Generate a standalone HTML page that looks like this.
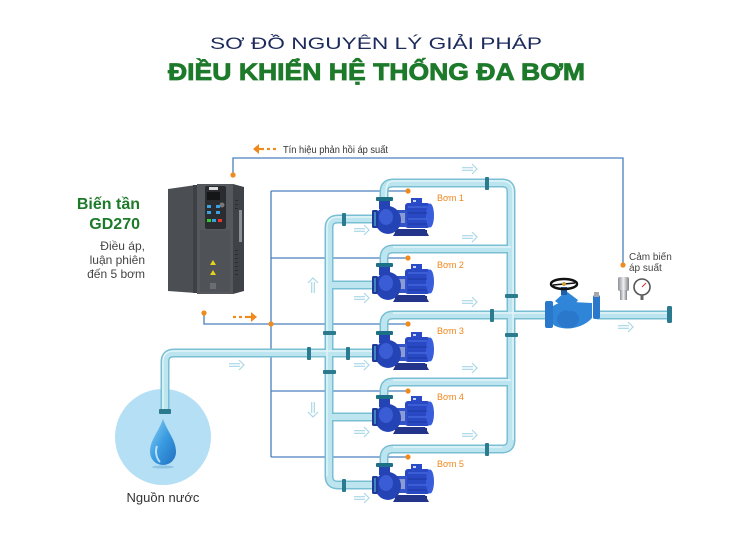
<!DOCTYPE html>
<html><head><meta charset="utf-8"><style>html,body{margin:0;padding:0;background:#fff}svg{display:block}</style></head>
<body>
<svg width="750" height="533" viewBox="0 0 750 533" xmlns="http://www.w3.org/2000/svg">
<defs>
  <linearGradient id="drop" x1="0" y1="0" x2="1" y2="1">
    <stop offset="0" stop-color="#8fd3f7"/><stop offset="0.5" stop-color="#3a9be0"/><stop offset="1" stop-color="#1f6fc0"/>
  </linearGradient>
  <linearGradient id="sens" x1="0" y1="0" x2="1" y2="0">
    <stop offset="0" stop-color="#8a8f94"/><stop offset="0.5" stop-color="#eef0f2"/><stop offset="1" stop-color="#7d8287"/>
  </linearGradient>
  <g id="pump">
    <rect x="20" y="11" width="32" height="5" fill="#1b2a6e"/>
    <polygon points="22,10 50,10 54,17 18,17" fill="#22358a"/>
    <rect x="30" y="-16" width="25" height="25" rx="3" fill="#2848c4"/>
    <ellipse cx="55" cy="-3.5" rx="4" ry="12" fill="#3a5ddc"/>
    <line x1="33" y1="-12" x2="52" y2="-12" stroke="#4f74e6" stroke-width="1"/>
    <line x1="33" y1="-6" x2="52" y2="-6" stroke="#1e38a0" stroke-width="1"/>
    <line x1="33" y1="0" x2="52" y2="0" stroke="#4f74e6" stroke-width="1"/>
    <line x1="33" y1="5" x2="52" y2="5" stroke="#1e38a0" stroke-width="1"/>
    <rect x="36" y="-21" width="11" height="6" fill="#2a4bc8"/>
    <rect x="38" y="-19" width="3" height="2" fill="#c9d4f5"/>
    <rect x="21" y="-9" width="11" height="17" fill="#3353c8"/>
    <rect x="23" y="-6" width="7" height="10" fill="#8a9bd6"/>
    <ellipse cx="13" cy="1" rx="13" ry="14" fill="#2444b6"/>
    <ellipse cx="11" cy="-2" rx="7" ry="8" fill="#3a5cd4"/>
    <rect x="4" y="-20" width="11" height="10" fill="#2444b6"/>
    <rect x="1" y="-22" width="17" height="4" rx="1" fill="#1d6f86"/>
    <rect x="-3" y="-9" width="6" height="18" rx="1.5" fill="#1f3a9a"/>
    <rect x="-1" y="-7" width="2" height="14" fill="#3e86c0"/>
  </g>
  <g id="arr" fill="none" stroke="#aad8e7" stroke-width="1.2">
    <line x1="-8" y1="-1.3" x2="3" y2="-1.3"/>
    <line x1="-8" y1="1.3" x2="3" y2="1.3"/>
    <polyline points="2,-5 7,0 2,5"/>
  </g>
</defs>

<!-- Titles -->
<text x="210" y="49" font-family="Liberation Sans, sans-serif" font-size="17" fill="#1c2a5c" textLength="332" lengthAdjust="spacingAndGlyphs">SƠ ĐỒ NGUYÊN LÝ GIẢI PHÁP</text>
<text x="168" y="80" font-family="Liberation Sans, sans-serif" font-size="24" font-weight="bold" fill="#1d7a2a" stroke="#1d7a2a" stroke-width="0.8" textLength="417" lengthAdjust="spacingAndGlyphs">ĐIỀU KHIỂN HỆ THỐNG ĐA BƠM</text>

<!-- Left text -->
<g font-family="Liberation Sans, sans-serif" text-anchor="end">
  <text x="140" y="209" font-size="16" font-weight="bold" fill="#1d7a2a">Biến tần</text>
  <text x="140" y="229" font-size="16" font-weight="bold" fill="#1d7a2a">GD270</text>
  <text x="145" y="250" font-size="12" fill="#444">Điều áp,</text>
  <text x="145" y="264" font-size="12" fill="#444">luận phiên</text>
  <text x="145" y="278" font-size="12" fill="#444">đến 5 bơm</text>
</g>

<!-- Signal / control lines -->
<g fill="none" stroke="#4a80bd" stroke-width="1.3">
  <polyline points="233,175 233,158 623,158 623,265"/>
  <polyline points="204,313 204,324 408,324"/>
  <line x1="271" y1="191" x2="271" y2="457"/>
  <line x1="271" y1="191" x2="408" y2="191"/>
  <line x1="271" y1="258" x2="408" y2="258"/>
  <line x1="271" y1="391" x2="408" y2="391"/>
  <line x1="271" y1="457" x2="408" y2="457"/>
</g>
<g fill="#ef8a1e">
  <circle cx="233" cy="175" r="2.6"/>
  <circle cx="204" cy="313" r="2.6"/>
  <circle cx="271" cy="324" r="2.6"/>
  <circle cx="623" cy="265" r="2.6"/>
  <circle cx="408" cy="191" r="2.6"/>
  <circle cx="408" cy="258" r="2.6"/>
  <circle cx="408" cy="324" r="2.6"/>
  <circle cx="408" cy="391" r="2.6"/>
  <circle cx="408" cy="457" r="2.6"/>
</g>
<!-- orange arrows -->
<g stroke="#ef8a1e" stroke-width="2.2" fill="none">
  <line x1="256" y1="149" x2="264" y2="149"/>
  <line x1="267" y1="149" x2="270" y2="149"/>
  <line x1="273" y1="149" x2="276" y2="149"/>
  <line x1="233" y1="317" x2="236" y2="317"/>
  <line x1="239" y1="317" x2="242" y2="317"/>
  <line x1="245" y1="317" x2="252" y2="317"/>
</g>
<polygon points="253,149 259,144 259,154" fill="#ef8a1e"/>
<polygon points="257,317 251,312 251,322" fill="#ef8a1e"/>
<text x="283" y="153" font-family="Liberation Sans, sans-serif" font-size="10" fill="#333" textLength="105" lengthAdjust="spacingAndGlyphs">Tín hiệu phản hồi áp suất</text>

<!-- Water source -->
<circle cx="163" cy="437" r="48" fill="#b4dff4"/>
<path d="M163,419 C158,433 150,440 150,452 A13,13 0 0 0 176,452 C176,440 168,433 163,419 Z" fill="url(#drop)"/>
<path d="M157,446 C155,451 156,458 160,462" stroke="#d8f0ff" stroke-width="2" fill="none" opacity="0.8"/>
<ellipse cx="163" cy="467" rx="11" ry="1.5" fill="#6aa9d4" opacity="0.5"/>
<text x="163" y="502" font-family="Liberation Sans, sans-serif" font-size="13" fill="#333" text-anchor="middle">Nguồn nước</text>

<!-- Pipes -->
<g fill="none" stroke-linejoin="round">
  <g stroke="#78bfd3" stroke-width="9">
    <path d="M165,412 V362 Q165,353 174,353 H377"/>
    <path d="M377,219 H338 Q329,219 329,228 V476 Q329,485 338,485 H377"/>
    <path d="M329,285 H377 M329,417 H377"/>
    <path d="M384,200 V192 Q384,183 393,183 H502 Q511,183 511,192 V440 Q511,449 502,449 H393 Q384,449 384,458 V466"/>
    <path d="M384,266 V258 Q384,249 393,249 H511"/>
    <path d="M384,334 V324 Q384,315 393,315 H548"/>
    <path d="M597,315 H671"/>
    <path d="M384,398 V391 Q384,382 393,382 H511"/>
  </g>
  <g stroke="#bde5ef" stroke-width="6">
    <path d="M165,412 V362 Q165,353 174,353 H377"/>
    <path d="M377,219 H338 Q329,219 329,228 V476 Q329,485 338,485 H377"/>
    <path d="M329,285 H377 M329,417 H377"/>
    <path d="M384,200 V192 Q384,183 393,183 H502 Q511,183 511,192 V440 Q511,449 502,449 H393 Q384,449 384,458 V466"/>
    <path d="M384,266 V258 Q384,249 393,249 H511"/>
    <path d="M384,334 V324 Q384,315 393,315 H548"/>
    <path d="M597,315 H671"/>
    <path d="M384,398 V391 Q384,382 393,382 H511"/>
  </g>
  <g stroke="#e8f7fb" stroke-width="1.2">
    <path d="M163,410 V362 Q163,351 174,351 H377"/>
    <path d="M377,217 H338 Q327,217 327,228 V476"/>
    <path d="M386,200 V192 Q386,181 393,181 H502 Q513,181 513,192 V440"/>
    <path d="M393,247 H511 M393,313 H548 M597,313 H671 M393,380 H511 M393,447 H502"/>
  </g>
</g>

<!-- Flanges -->
<g fill="#2b7a8e">
  <rect x="159" y="409" width="12" height="5" rx="1"/>
  <rect x="307" y="347" width="4" height="13" rx="1"/>
  <rect x="346" y="347" width="4" height="13" rx="1"/>
  <rect x="342" y="213" width="4" height="13" rx="1"/>
  <rect x="342" y="479" width="4" height="13" rx="1"/>
  <rect x="323" y="331" width="13" height="4" rx="1"/>
  <rect x="323" y="370" width="13" height="4" rx="1"/>
  <rect x="485" y="177" width="4" height="13" rx="1"/>
  <rect x="485" y="443" width="4" height="13" rx="1"/>
  <rect x="490" y="309" width="4" height="13" rx="1"/>
  <rect x="505" y="294" width="13" height="4" rx="1"/>
  <rect x="505" y="333" width="13" height="4" rx="1"/>
  <rect x="667" y="306" width="5" height="17" rx="1.5"/>
</g>

<!-- Pumps -->
<use href="#pump" x="375" y="219"/>
<use href="#pump" x="375" y="285"/>
<use href="#pump" x="375" y="353"/>
<use href="#pump" x="375" y="417"/>
<use href="#pump" x="375" y="485"/>
<g font-family="Liberation Sans, sans-serif" font-size="9" fill="#f0861a">
  <text x="437" y="201">Bơm 1</text>
  <text x="437" y="268">Bơm 2</text>
  <text x="437" y="334">Bơm 3</text>
  <text x="437" y="400">Bơm 4</text>
  <text x="437" y="467">Bơm 5</text>
</g>

<!-- Flow arrows -->
<use href="#arr" x="470" y="169"/>
<use href="#arr" x="362" y="230"/>
<use href="#arr" x="470" y="237"/>
<use href="#arr" x="362" y="298"/>
<use href="#arr" x="470" y="302"/>
<use href="#arr" x="237" y="365"/>
<use href="#arr" x="362" y="365"/>
<use href="#arr" x="470" y="368"/>
<use href="#arr" x="362" y="432"/>
<use href="#arr" x="470" y="435"/>
<use href="#arr" x="362" y="498"/>
<use href="#arr" x="626" y="327"/>
<use href="#arr" transform="translate(313,285) rotate(-90)"/>
<use href="#arr" transform="translate(313,410) rotate(90)"/>

<!-- Valve -->
<g>
  <rect x="545" y="301" width="8" height="27" rx="2" fill="#2a78cc"/>
  <path d="M553,306 C560,302 566,300 572,302 L592,303 L592,318 C585,326 572,330 562,328 C556,327 553,325 553,324 Z" fill="#2f86d8"/>
  <ellipse cx="568" cy="319" rx="11" ry="9" fill="#2a78cc"/>
  <polygon points="555,301 566,291 578,300 570,312" fill="#2f86d8"/>
  <rect x="561" y="287" width="6" height="8" fill="#1f5fa8"/>
  <rect x="593" y="295" width="7" height="24" rx="2" fill="#2a78cc"/>
  <rect x="594" y="292" width="5" height="5" fill="#a7a7a7"/>
  <ellipse cx="564" cy="284" rx="13" ry="5" fill="none" stroke="#111" stroke-width="2.5"/>
  <line x1="553" y1="285" x2="575" y2="283" stroke="#111" stroke-width="1.5"/>
  <circle cx="564" cy="284" r="2" fill="#c9a23a"/>
</g>

<!-- Sensor -->
<rect x="618" y="277" width="11" height="14" rx="2" fill="url(#sens)"/>
<rect x="620" y="290" width="7" height="10" fill="url(#sens)"/>
<circle cx="642" cy="287" r="8" fill="#fff" stroke="#555" stroke-width="1.6"/>
<line x1="642" y1="287" x2="646" y2="283" stroke="#c33" stroke-width="1"/>
<rect x="640.5" y="295" width="3" height="5" fill="#666"/>
<g font-family="Liberation Sans, sans-serif" font-size="10" fill="#444">
  <text x="629" y="260">Cảm biến</text>
  <text x="629" y="271">áp suất</text>
</g>

<!-- Inverter -->
<g>
  <polygon points="168,189 196,185 196,293 168,291" fill="#4b4e52"/>
  <rect x="193" y="185" width="5" height="108" fill="#3d4044"/>
  <rect x="197" y="184" width="36" height="110" fill="#55585c"/>
  <rect x="200" y="230" width="30" height="62" fill="#4f5256"/>
  <polygon points="233,184 244,187 244,291 233,294" fill="#3f4246"/>
  <rect x="239" y="210" width="3" height="32" fill="#8c8f93"/>
  <g fill="#2c2e31">
    <rect x="235" y="200" width="3" height="1"/><rect x="235" y="204" width="3" height="1"/>
    <rect x="235" y="208" width="3" height="1"/><rect x="235" y="250" width="3" height="1"/>
    <rect x="235" y="254" width="3" height="1"/><rect x="235" y="258" width="3" height="1"/>
    <rect x="235" y="262" width="3" height="1"/><rect x="235" y="266" width="3" height="1"/>
    <rect x="235" y="270" width="3" height="1"/><rect x="235" y="274" width="3" height="1"/>
  </g>
  <rect x="205" y="186" width="21" height="43" rx="2" fill="#2a2c30"/>
  <rect x="207" y="192" width="13" height="8" fill="#151618"/>
  <circle cx="222" cy="205" r="2.5" fill="#777"/>
  <g fill="#3aa0e0">
    <rect x="207" y="205" width="4" height="3"/><rect x="216" y="205" width="4" height="3"/>
    <rect x="207" y="211" width="4" height="3"/><rect x="216" y="211" width="4" height="3"/>
    <rect x="212" y="219" width="4" height="3"/>
  </g>
  <rect x="207" y="219" width="4" height="3" fill="#3c3"/>
  <rect x="218" y="219" width="4" height="3" fill="#e33"/>
  <rect x="209" y="187" width="9" height="3" fill="#ddd"/>
  <polygon points="213,260 216,265 210,265" fill="#e8d21a"/>
  <polygon points="213,270 216,275 210,275" fill="#e8d21a"/>
  <rect x="210" y="283" width="6" height="6" fill="#6a6d71"/>
</g>
</svg>
</body></html>
